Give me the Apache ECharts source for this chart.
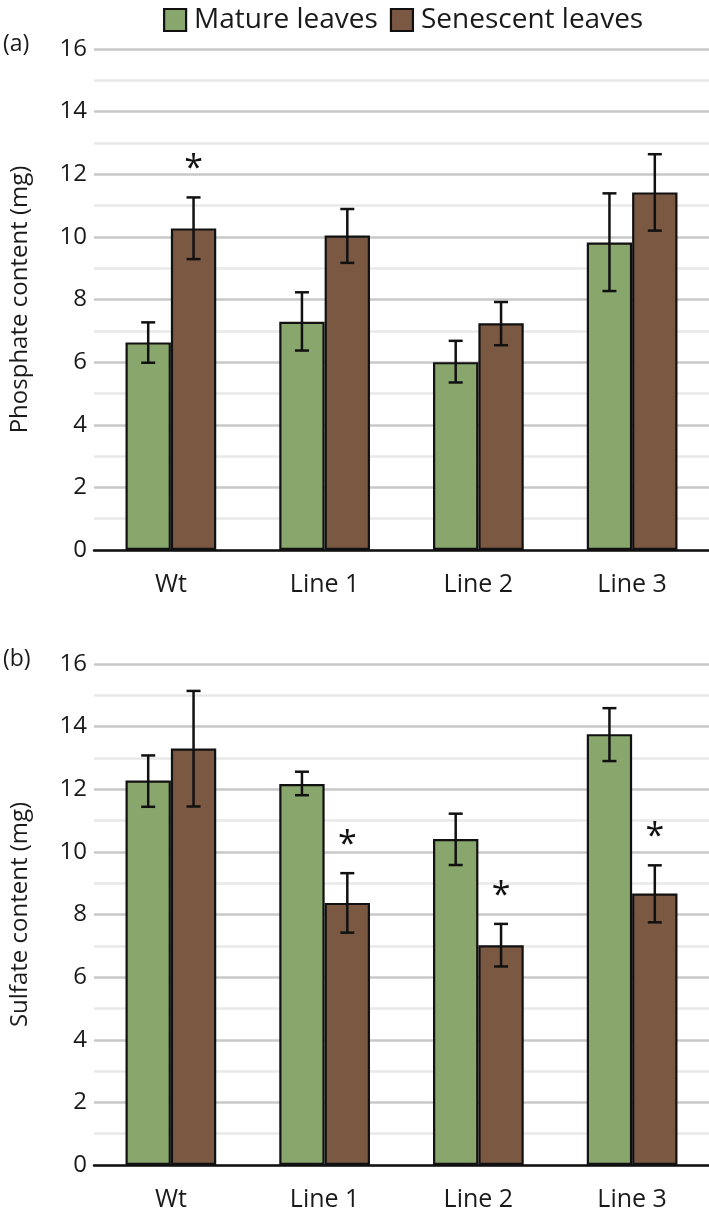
<!DOCTYPE html>
<html>
<head>
<meta charset="utf-8">
<script src="https://cdn.jsdelivr.net/npm/echarts@6/dist/echarts.min.js"></script>
<style>
html,body{margin:0;padding:0;background:#fff;}
#main{width:709px;height:1212px;}
</style>
</head>
<body>
<div id="main"></div>
<script>
var categories = ['Wt', 'Line 1', 'Line 2', 'Line 3'];
var legendNames = ['Mature leaves', 'Senescent leaves'];

// (a) phosphate
var phosMature   = [6.63, 7.29, 6.00, 9.82];
var phosMatureLo = [5.98, 6.37, 5.35, 8.27];
var phosMatureHi = [7.27, 8.23, 6.68, 11.39];
var phosSen      = [10.27, 10.04, 7.24, 11.42];
var phosSenLo    = [9.29, 9.17, 6.54, 10.20];
var phosSenHi    = [11.26, 10.89, 7.92, 12.64];
var phosSenSig   = [1, 0, 0, 0];

// (b) sulfate
var sulfMature   = [12.28, 12.17, 10.41, 13.76];
var sulfMatureLo = [11.44, 11.81, 9.58, 12.90];
var sulfMatureHi = [13.08, 12.56, 11.22, 14.59];
var sulfSen      = [13.30, 8.37, 7.02, 8.67];
var sulfSenLo    = [11.45, 7.42, 6.34, 7.75];
var sulfSenHi    = [15.14, 9.32, 7.70, 9.57];
var sulfSenSig   = [0, 1, 1, 1];

var yTicks = [0, 16, 2];

var FONT = '"Open Sans", "Noto Sans", sans-serif';
var GREEN = '#89a66d';
var BROWN = '#7a5842';
var GAP = 0.41;

function errData(lo, hi){
    var out = [];
    for (var i = 0; i < lo.length; i++) {
        out.push([i, lo[i], hi[i]]);
    }
    return out;
}

function starData(sig, hi){
    var out = [];
    for (var i = 0; i < sig.length; i++) {
        if (sig[i]) out.push([i, hi[i]]);
    }
    return out;
}

function errItem(side){
    return function(params, api){
        var c = api.value(0);
        var lo = api.coord([c, api.value(1)]);
        var hi = api.coord([c, api.value(2)]);
        var barW = api.size([1, 0])[0] * (1 - GAP) / 2;
        var x = lo[0] + side * barW / 2;
        var st = {stroke: '#111', lineWidth: 2.5};
        return {type: 'group', children: [
            {type: 'line', shape: {x1: x, y1: lo[1], x2: x, y2: hi[1]}, style: st},
            {type: 'line', shape: {x1: x - 7, y1: lo[1], x2: x + 7, y2: lo[1]}, style: st},
            {type: 'line', shape: {x1: x - 7, y1: hi[1], x2: x + 7, y2: hi[1]}, style: st}
        ]};
    };
}

// asterisk above the senescent bar
function starItem(params, api){
    var p = api.coord([api.value(0), api.value(1)]);
    var barW = api.size([1, 0])[0] * (1 - GAP) / 2;
    return {type: 'text', x: p[0] + barW / 2, y: p[1] - 28, style: {
        text: '*', fontSize: 34, fontFamily: FONT, fill: '#111',
        align: 'center', verticalAlign: 'middle'
    }};
}

function yAxis(idx, name){
    return {
        type: 'value', gridIndex: idx, min: yTicks[0], max: yTicks[1], interval: yTicks[2],
        name: name, nameLocation: 'middle', nameGap: 62,
        nameTextStyle: {fontSize: 24, fontFamily: FONT, color: '#1a1a1a'},
        axisLine: {show: false}, axisTick: {show: false},
        axisLabel: {fontSize: 24, fontFamily: FONT, color: '#1a1a1a', margin: 7},
        splitLine: {lineStyle: {color: '#c8c8c8', width: 2.5}},
        minorTick: {show: false, splitNumber: 2},
        minorSplitLine: {show: true, lineStyle: {color: '#e9e9e9', width: 2.5}}
    };
}

function xAxis(idx){
    return {
        type: 'category', gridIndex: idx, data: categories,
        axisLine: {lineStyle: {color: '#111', width: 2.5}},
        axisTick: {show: false},
        axisLabel: {fontSize: 25, fontFamily: FONT, color: '#1a1a1a', margin: 22}
    };
}

function barSeries(name, idx, data, color){
    return {
        type: 'bar', name: name, xAxisIndex: idx, yAxisIndex: idx, data: data,
        barGap: '0%', barCategoryGap: (GAP * 100) + '%',
        itemStyle: {color: color, borderColor: '#111', borderWidth: 2.2}
    };
}

function custom(idx, data, fn){
    return {type: 'custom', xAxisIndex: idx, yAxisIndex: idx, data: data,
        renderItem: fn, z: 5, silent: true};
}

var chart = echarts.init(document.getElementById('main'));
chart.setOption({
    animation: false,
    backgroundColor: '#fff',
    legend: {
        top: 1, left: 158, data: legendNames,
        icon: 'rect', itemWidth: 22, itemHeight: 22, itemGap: 12,
        itemStyle: {borderColor: '#111', borderWidth: 2.2},
        textStyle: {fontSize: 28, fontFamily: FONT, color: '#1a1a1a', padding: [0, 0, 0, 3]}
    },
    graphic: [
        {type: 'text', left: 3, top: 33, style: {text: '(a)', fontSize: 23, fontFamily: FONT, fill: '#1a1a1a'}},
        {type: 'text', left: 3, top: 648, style: {text: '(b)', fontSize: 23, fontFamily: FONT, fill: '#1a1a1a'}}
    ],
    grid: [
        {left: 87, right: 0, top: 49, height: 501},
        {left: 87, right: 0, top: 664, height: 501}
    ],
    xAxis: [xAxis(0), xAxis(1)],
    yAxis: [yAxis(0, 'Phosphate content (mg)'), yAxis(1, 'Sulfate content (mg)')],
    series: [
        barSeries(legendNames[0], 0, phosMature, GREEN),
        barSeries(legendNames[1], 0, phosSen, BROWN),
        barSeries(legendNames[0], 1, sulfMature, GREEN),
        barSeries(legendNames[1], 1, sulfSen, BROWN),
        custom(0, errData(phosMatureLo, phosMatureHi), errItem(-1)),
        custom(0, errData(phosSenLo, phosSenHi), errItem(1)),
        custom(1, errData(sulfMatureLo, sulfMatureHi), errItem(-1)),
        custom(1, errData(sulfSenLo, sulfSenHi), errItem(1)),
        custom(0, starData(phosSenSig, phosSenHi), starItem),
        custom(1, starData(sulfSenSig, sulfSenHi), starItem)
    ]
});
</script>
</body>
</html>
